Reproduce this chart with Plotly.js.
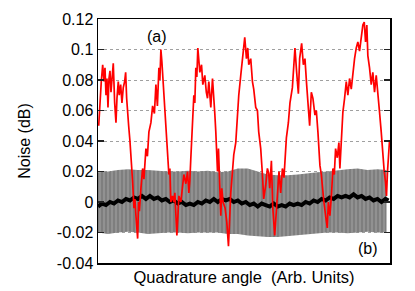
<!DOCTYPE html>
<html>
<head>
<meta charset="utf-8">
<script src="https://cdn.plot.ly/plotly-3.0.1.min.js"></script>
<style>
html,body{margin:0;padding:0;background:#fff;}
#chart{width:415px;height:291px;}
</style>
</head>
<body>
<div id="chart"></div>
<script>
// Quadrature angle positions (arbitrary units) and noise values (dB)
var redX = [
  0.7,2,3.3,4.7,6,7,8,9,10,11,
  12,13,14,15.3,16.7,18,19,20.3,21.3,22.7,
  24,25.3,26.7,27.7,28.7,29.7,30.7,32,33,34,
  34.7,36,37,38,39,39.7,40.7,41.5,43,44.7,
  46,48,49.5,51,53,54.7,56.5,58,59.5,61,
  62,63,64,64.7,66,67,68,69.7,71,72,
  73,74.7,76,77,78,79,80,81,83,84.7,
  86,88,89.7,91,92,93,94.7,96,97,98,
  99,100,102,103.7,105,107,108.5,109.7,111,113,
  114.7,116,117,118,118.8,119.7,120.7,122,123,124,
  125.3,127.3,129,130.7,132,133,134.7,136,138,139.7,
  141,143,144.7,146,147,148.7,150,151,153,154.7,
  156,158,159.7,161,163,164.7,166,168,169.7,171,
  172,173.7,175,177,178.7,179.7,181.3,183,184.7,186.3,
  187.3,188.7,190.7,192.3,194.7,196.3,197.3,199,200.7,202,
  204,205.7,207.3,209,210.7,212,213.7,215.3,217.3,218.7,
  220.3,221.3,222.3,223.7,224.7,226.3,228,229.7,230.7,232.3,
  234,235.3,236.7,238,239.7,241.3,242.3,243.7,245.3,247,
  248.7,250.3,252,253.7,255.3,257,258.7,260.3,262,263.7,
  265.3,266.7,268,269.3,270.3,272,273.7,275.3,277,278.7,
  280.3,282,283.7,285.3,286.7,288,289,290,291.3,292
];
var redY = [
  0.050,0.068,0.079,0.090,0.079,0.088,0.070,0.081,0.062,0.081,
  0.086,0.072,0.079,0.091,0.065,0.052,0.068,0.079,0.070,0.077,
  0.065,0.075,0.079,0.085,0.068,0.057,0.050,0.040,0.031,0.020,
  0.013,-0.004,0.002,-0.009,-0.016,-0.024,0.000,-0.006,0.009,0.022,
  0.015,0.035,0.030,0.046,0.052,0.063,0.058,0.077,0.063,0.088,
  0.080,0.100,0.092,0.085,0.068,0.060,0.046,0.035,0.018,0.022,
  0.000,0.004,0.000,0.006,-0.007,-0.022,-0.010,0.004,0.000,0.009,
  0.018,0.012,0.020,0.006,0.014,0.029,0.050,0.070,0.065,0.088,
  0.082,0.101,0.085,0.090,0.077,0.083,0.072,0.068,0.079,0.062,
  0.081,0.070,0.058,0.046,0.031,0.020,0.035,0.006,-0.009,0.009,
  0.000,-0.004,-0.013,-0.029,-0.009,0.006,0.020,0.031,0.039,0.057,
  0.070,0.083,0.096,0.106,0.108,0.094,0.101,0.090,0.094,0.079,
  0.074,0.062,0.060,0.046,0.035,0.018,0.002,0.011,0.022,0.019,
  0.009,0.027,-0.003,-0.022,-0.005,0.009,0.020,0.006,0.022,0.016,
  0.029,0.042,0.052,0.065,0.075,0.092,0.101,0.085,0.071,0.094,
  0.104,0.090,0.094,0.077,0.063,0.050,0.072,0.068,0.057,0.060,
  0.046,0.035,0.024,0.018,0.009,0.000,-0.009,-0.017,0.000,-0.009,
  0.006,0.022,0.018,0.035,0.029,0.039,0.022,0.044,0.059,0.068,
  0.079,0.070,0.081,0.074,0.085,0.094,0.101,0.105,0.099,0.109,
  0.116,0.118,0.105,0.116,0.096,0.088,0.077,0.085,0.072,0.083,
  0.068,0.059,0.046,0.031,0.020,0.013,0.004,0.020,0.035,0.040
];

var bandX = [0,10,20,30,40,50,60,70,80,90,100,110,120,130,140,150,160,170,180,190,200,210,220,230,240,250,260,270,280,289];
var bandUpper = [0.0195,0.020,0.021,0.0215,0.021,0.021,0.0205,0.020,0.020,0.0205,0.020,0.0205,0.0195,0.020,0.022,0.022,0.020,0.018,0.0175,0.0175,0.018,0.019,0.0195,0.020,0.021,0.0215,0.022,0.021,0.0215,0.021];
var bandLower = [-0.020,-0.021,-0.020,-0.0195,-0.020,-0.021,-0.0205,-0.020,-0.020,-0.0205,-0.020,-0.020,-0.020,-0.021,-0.021,-0.022,-0.0225,-0.023,-0.023,-0.0225,-0.0215,-0.021,-0.0205,-0.020,-0.020,-0.0205,-0.020,-0.0195,-0.020,-0.020];

var blackX = [
  0,4,8,12,16,20,24,28,32,36,
  40,44,48,52,56,60,64,68,72,76,
  80,84,88,92,96,100,104,108,112,116,
  120,124,128,132,136,140,144,148,152,156,
  160,164,168,172,176,180,184,188,192,196,
  200,204,208,212,216,220,224,228,232,236,
  240,244,248,252,256,260,264,268,272,276,
  280,284,288,291
];
var blackY = [
  -0.003,-0.001,-0.002,0.000,-0.001,0.001,0.000,0.002,0.001,0.003,
  0.002,0.004,0.002,0.004,0.002,0.003,0.001,0.002,0.000,0.001,
  -0.001,0.000,-0.002,-0.001,-0.002,0.000,-0.001,0.001,0.000,0.002,
  0.000,0.002,0.001,0.002,0.000,0.001,-0.001,0.000,-0.002,-0.001,
  -0.003,-0.001,-0.002,-0.003,-0.001,-0.003,-0.002,-0.003,-0.001,-0.002,
  -0.001,-0.002,0.000,-0.001,0.001,0.000,0.002,0.001,0.003,0.002,
  0.004,0.003,0.004,0.003,0.005,0.003,0.004,0.002,0.003,0.001,
  0.002,0.000,0.002,0.001
];

var yTickVals = [-0.04,-0.02,0,0.02,0.04,0.06,0.08,0.1,0.12];
var yTickText = ['-0.04','-0.02','0','0.02','0.04','0.06','0.08','0.1','0.12'];

var traces = [
  {x: bandX, y: bandLower, mode: 'lines', line: {width: 0, color: '#808080'}, hoverinfo: 'skip', showlegend: false},
  {x: bandX, y: bandUpper, mode: 'lines', line: {width: 0, color: '#808080'}, fill: 'tonexty', fillcolor: '#808080',
   fillpattern: {shape: '|', bgcolor: '#7e7e7e', fgcolor: '#a4a4a4', size: 4, solidity: 0.25},
   hoverinfo: 'skip', showlegend: false},
  {x: blackX, y: blackY, mode: 'lines', line: {width: 4, color: '#000000'}, showlegend: false},
  {x: redX, y: redY, mode: 'lines', line: {width: 1.7, color: '#ff0000'}, showlegend: false}
];

var layout = {
  width: 415, height: 291,
  margin: {l: 98, r: 24.5, t: 19, b: 28, pad: 0},
  paper_bgcolor: '#ffffff', plot_bgcolor: '#ffffff',
  font: {family: 'Liberation Sans, Arial, sans-serif', size: 16, color: '#000000'},
  showlegend: false,
  xaxis: {
    range: [0, 292.5], showline: true, linecolor: '#000000', linewidth: 1.5, mirror: true,
    ticks: '', showticklabels: false, showgrid: false, zeroline: false,
    title: {text: 'Quadrature angle\u00a0 (Arb. Units)', font: {size: 16.5}, standoff: 8}
  },
  yaxis: {
    range: [-0.04, 0.12], tickmode: 'array', tickvals: yTickVals, ticktext: yTickText,
    ticks: 'inside', ticklen: 6, tickwidth: 1.5, tickcolor: '#222222',
    showline: true, linecolor: '#000000', linewidth: 1.5, mirror: 'ticks',
    showgrid: true, gridcolor: '#a0a0a0', griddash: 'dot', gridwidth: 1, zeroline: false,
    tickfont: {size: 16},
    title: {text: 'Noise (dB)', font: {size: 16}, standoff: 22}
  },
  annotations: [
    {x: 58.7, y: 0.1087, xref: 'x', yref: 'y', text: '(a)', showarrow: false, font: {size: 16}},
    {x: 270, y: -0.0303, xref: 'x', yref: 'y', text: '(b)', showarrow: false, font: {size: 16}}
  ]
};

Plotly.newPlot('chart', traces, layout, {staticPlot: true, displayModeBar: false});
</script>
</body>
</html>
